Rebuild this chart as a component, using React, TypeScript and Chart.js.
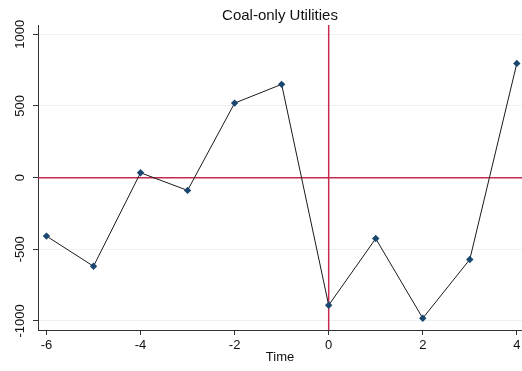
import React, { useEffect, useRef } from "react";
import { Chart, registerables } from "chart.js";

Chart.register(...registerables);

const timeValues = [-6, -5, -4, -3, -2, -1, 0, 1, 2, 3, 4];
const coalValues = [-408, -618, 34, -89, 520, 651, -890, -425, -981, -571, 797];
const xTickValues = [-6, -4, -2, 0, 2, 4];
const yTickValues = [-1000, -500, 0, 500, 1000];
const refLineX = [0];
const refLineY = [0];
const xRange = [-6.18, 4.11];
const yRange = [-1063, 1065];

const FONT = 'Arial, "Liberation Sans", sans-serif';

const refLinesPlugin = {
  id: "refLines",
  beforeDatasetsDraw(chart: any) {
    const { ctx, chartArea, scales } = chart;
    ctx.save();
    ctx.strokeStyle = "#c52a50";
    ctx.lineWidth = 1.5;
    refLineY.forEach((v) => {
      const py = scales.y.getPixelForValue(v);
      ctx.beginPath();
      ctx.moveTo(chartArea.left, py);
      ctx.lineTo(chartArea.right, py);
      ctx.stroke();
    });
    refLineX.forEach((v) => {
      const px = scales.x.getPixelForValue(v);
      ctx.beginPath();
      ctx.moveTo(px, chartArea.top);
      ctx.lineTo(px, chartArea.bottom);
      ctx.stroke();
    });
    ctx.restore();
  },
};

export default function App() {
  const canvasRef = useRef<HTMLCanvasElement | null>(null);

  useEffect(() => {
    if (!canvasRef.current) return;
    const zeroPad = (scale: any) => {
      scale.paddingLeft = 0;
      scale.paddingRight = 0;
      scale.paddingTop = 0;
      scale.paddingBottom = 0;
    };
    const chart = new Chart(canvasRef.current, {
      type: "line",
      data: {
        datasets: [
          {
            data: timeValues.map((t, i) => ({ x: t, y: coalValues[i] })),
            borderColor: "#1a1a1a",
            borderWidth: 1,
            pointStyle: "rectRot",
            pointRadius: 3.7,
            pointBackgroundColor: "#1a476f",
            pointBorderColor: "#1a476f",
            pointBorderWidth: 0,
            tension: 0,
            clip: false,
          },
        ],
      },
      options: {
        animation: false,
        responsive: false,
        layout: { padding: 0, autoPadding: false },
        plugins: {
          legend: { display: false },
          tooltip: { enabled: false },
          title: {
            display: true,
            text: "Coal-only Utilities",
            fullSize: false,
            color: "#111111",
            font: { family: FONT, size: 15, weight: "normal" },
            padding: { top: 7, bottom: 0 },
          },
        },
        scales: {
          x: {
            type: "linear",
            min: xRange[0],
            max: xRange[1],
            afterBuildTicks: (scale: any) => {
              scale.ticks = xTickValues.map((value) => ({ value }));
            },
            afterFit: (scale: any) => {
              scale.height = 41;
              zeroPad(scale);
            },
            grid: {
              drawOnChartArea: false,
              drawTicks: true,
              tickLength: 5,
              color: "#333333",
              tickColor: "#333333",
            },
            border: { display: true, color: "#333333", width: 1 },
            ticks: {
              color: "#111111",
              font: { family: FONT, size: 13 },
              padding: 3,
              maxRotation: 0,
              autoSkip: false,
              callback: (v: any) => String(v),
            },
            title: {
              display: true,
              text: "Time",
              color: "#111111",
              font: { family: FONT, size: 13 },
              padding: { top: 0, bottom: 6 },
            },
          },
          y: {
            type: "linear",
            min: yRange[0],
            max: yRange[1],
            afterBuildTicks: (scale: any) => {
              scale.ticks = yTickValues.map((value) => ({ value }));
            },
            afterFit: (scale: any) => {
              scale.width = 38;
              zeroPad(scale);
            },
            grid: {
              drawOnChartArea: true,
              drawTicks: true,
              tickLength: 5,
              color: "#eaf2f3",
              tickColor: "#333333",
            },
            border: { display: true, color: "#333333", width: 1 },
            ticks: {
              color: "#111111",
              font: { family: FONT, size: 13 },
              padding: -4,
              minRotation: 90,
              maxRotation: 90,
              crossAlign: "center",
              autoSkip: false,
              callback: (v: any) => String(v),
            },
          },
        },
      },
      plugins: [refLinesPlugin],
    } as any);
    return () => chart.destroy();
  }, []);

  return (
    <div style={{ position: "fixed", left: 0, top: 0, width: 522, height: 371, background: "#ffffff" }}>
      <canvas ref={canvasRef} width={522} height={371} style={{ display: "block" }} />
    </div>
  );
}
